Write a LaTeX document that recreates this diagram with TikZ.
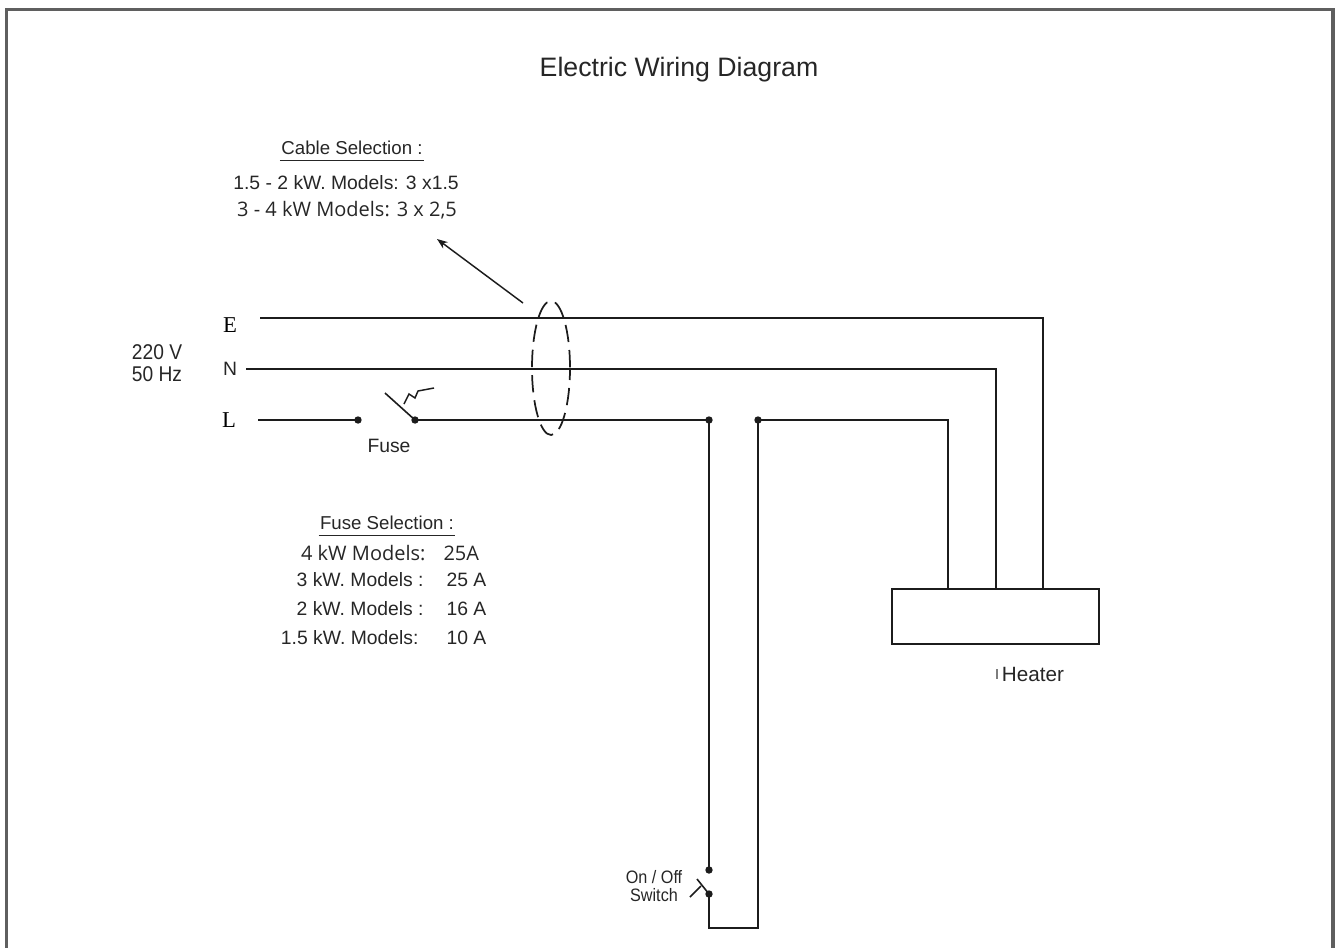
\documentclass[tikz,border=0pt]{standalone}
\usepackage{fontspec}
\setmainfont{Liberation Sans}
\newfontfamily\timesfont{Liberation Serif}
\newfontfamily\uifont{Open Sans}
\newfontfamily\narrowfont[FakeStretch=0.9]{Liberation Sans}
\usetikzlibrary{arrows.meta}
\definecolor{wirecol}{RGB}{28,28,28}
\definecolor{ink}{RGB}{38,38,38}
\definecolor{framecol}{RGB}{95,95,95}
\tikzset{every picture/.style={line width=0.75pt}}

\begin{document}
\begin{tikzpicture}[x=0.75pt,y=0.75pt,yscale=-1,xscale=1,
  wire/.style={draw=wirecol,line width=1.7pt},
  thinwire/.style={draw=wirecol,line width=1.2pt},
  txt/.style={inner sep=0.75pt,text=ink,font=\fontsize{14.5}{17}\selectfont},
  uitxt/.style={inner sep=0.75pt,text=ink,font=\uifont\fontsize{15}{18}\selectfont},
  heading/.style={inner xsep=0.75pt,inner ysep=4pt,text=ink,font=\fontsize{14}{17}\selectfont},
  dot/.style={fill=wirecol}]
\useasboundingbox (0,0) rectangle (1336,947);

%Shape: Frame [id:frame]
\draw [draw=framecol,line width=2.4pt] (6.5,960) -- (6.5,9.5) -- (1333,9.5) -- (1333,960) ;

% Text Node
\draw (679,70) node (title) [inner sep=0.75pt,text=ink,font=\fontsize{20}{24}\selectfont] {Electric Wiring Diagram};

%Wire points
\coordinate (Es) at (260,318);
\coordinate (Ec) at (1043,318);
\coordinate (Eh) at (1043,589);
\coordinate (Ns) at (246,369);
\coordinate (Nc) at (996,369);
\coordinate (Nh) at (996,589);
\coordinate (Ls) at (258,420);
\coordinate (fuseL) at (358,420);
\coordinate (fuseR) at (415,420);
\coordinate (jA) at (709,420);
\coordinate (swT) at (709,870);
\coordinate (swB) at (709,894);
\coordinate (loopL) at (709,928);
\coordinate (loopR) at (758,928);
\coordinate (jB) at (758,420);
\coordinate (Lc) at (948,420);
\coordinate (Lh) at (948,589);

%Straight Lines [id:wireE]
\draw [wire] (Es) -- (Ec) -- (Eh) ;
%Straight Lines [id:wireN]
\draw [wire] (Ns) -- (Nc) -- (Nh) ;
%Straight Lines [id:wireL]
\draw [wire] (Ls) -- (fuseL) ;
\draw [wire] (fuseR) -- (jA) -- (swT) ;
\draw [wire] (swB) -- (loopL) -- (loopR) -- (jB) -- (Lc) -- (Lh) ;

%Shape: Circle [id:dots]
\foreach \p in {fuseL,fuseR,jA,jB,swT,swB}
  \fill [dot] (\p) circle (3.7) ;

%Fuse blade
\coordinate (bladeF) at (385,393);
\draw [thinwire] (bladeF) -- (fuseR) ;
\draw [draw=wirecol,line width=1.1pt] (404,404) -- (409,394) -- (415,398) -- (418,391) -- (434,388) ;

%Switch blade
\coordinate (bladeS) at (697,879);
\coordinate (legS) at (690,897);
\coordinate (legT) at (701,886);
\draw [thinwire] (bladeS) -- (swB) ;
\draw [thinwire] (legS) -- (legT) ;

%Shape: Rectangle [id:heater]
\coordinate (hA) at (892,589);
\coordinate (hB) at (1099,644);
\draw [wire] (hA) rectangle (hB) ;
\draw [draw=ink!60,line width=0.8pt] (997,669) -- (997,679) ;

%Shape: Ellipse [id:cable]
\coordinate (cableC) at (551,368);
\draw [draw=wirecol,line width=1.3pt,dash pattern=on 13pt off 6pt,dash phase=4pt] (cableC) ellipse (19 and 67) ;

% Text Node
\draw (352,148) node (cablehead) [heading] {Cable Selection :};
\draw [draw=ink,line width=1.1pt] (cablehead.south west) -- (cablehead.south east) ;
% Text Node
\draw (346,183) node (cableA) [txt] {1.5 - 2 kW. Models: 3 x1.5};
% Text Node
\draw (347,210) node (cableB) [uitxt] {3 - 4 kW Models: 3 x 2,5};

%Arrow [id:cablearrow]
\coordinate (arrTail) at (523,303);
\coordinate (arrTip) at (437,239);
\draw [draw=wirecol,line width=1.1pt,-{Stealth[length=8pt,width=6pt]}] (arrTail) -- (arrTip) ;

% Text Node
\draw (157,363) node (supply) [txt,align=left,font=\narrowfont\fontsize{16}{17}\selectfont] {220 V\\50 Hz};
% Text Node
\draw (230,325) node (labE) [inner sep=0.75pt,text=black,font=\timesfont\fontsize{17}{20}\selectfont] {E};
% Text Node
\draw (230,369) node (labN) [txt] {N};
% Text Node
\draw (229,420) node (labL) [inner sep=0.75pt,text=black,font=\timesfont\fontsize{17}{20}\selectfont] {L};
% Text Node
\draw (389,446) node (fuselab) [txt] {Fuse};

% Text Node
\draw (387,523) node (fusehead) [heading] {Fuse Selection :};
\draw [draw=ink,line width=1.1pt] (fusehead.south west) -- (fusehead.south east) ;
% Text Node
\draw (427,553) node (rowAl) [uitxt,anchor=east] {4 kW Models:};
\draw (442,553) node (rowAr) [uitxt,anchor=west] {25A};
% Text Node
\draw (425,580) node (rowBl) [txt,anchor=east] {3 kW. Models :};
\draw (445,580) node (rowBr) [txt,anchor=west] {25 A};
% Text Node
\draw (425,609) node (rowCl) [txt,anchor=east] {2 kW. Models :};
\draw (445,609) node (rowCr) [txt,anchor=west] {16 A};
% Text Node
\draw (420,638) node (rowDl) [txt,anchor=east] {1.5 kW. Models:};
\draw (445,638) node (rowDr) [txt,anchor=west] {10 A};

% Text Node
\draw (1033,674) node (heaterlab) [txt,font=\fontsize{15.5}{18}\selectfont] {Heater};
% Text Node
\draw (654,886) node (switchlab) [txt,align=center,font=\narrowfont\fontsize{13.5}{13.6}\selectfont] {On / Off\\Switch};

\end{tikzpicture}
\end{document}
